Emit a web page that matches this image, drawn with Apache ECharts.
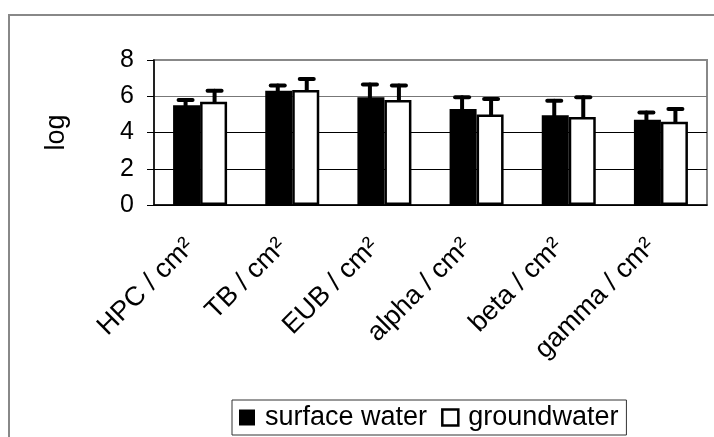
<!DOCTYPE html>
<html>
<head>
<meta charset="utf-8">
<script src="https://cdn.jsdelivr.net/npm/echarts@6/dist/echarts.min.js"></script>
<style>
  html, body { margin: 0; padding: 0; background: #fff; }
  #chart { width: 714px; height: 437px; }
</style>
</head>
<body>
<div id="chart"></div>
<script>
// values
const categories = ['HPC / cm²', 'TB / cm²', 'EUB / cm²', 'alpha / cm²', 'beta / cm²', 'gamma / cm²'];
const surfaceWater = [5.5, 6.3, 5.95, 5.3, 4.95, 4.7];
const surfaceErr = [0.3, 0.3, 0.7, 0.65, 0.8, 0.4];
const groundwater = [5.7, 6.35, 5.8, 5.0, 4.85, 4.6];
const groundErr = [0.6, 0.6, 0.8, 0.85, 1.1, 0.7];
const yTicks = [0, 2, 4, 6, 8];

const FONT = 'Liberation Sans, Arial, sans-serif';
const BAR_W = 27;

function errSeries(name, means, errs, side) {
  return {
    name: name,
    type: 'custom',
    z: 5,
    silent: true,
    data: means.map((v, i) => [i, v, v + errs[i]]),
    renderItem: function (params, api) {
      const base = api.coord([api.value(0), api.value(1)]);
      const top = api.coord([api.value(0), api.value(2)]);
      const x = base[0] + side * (BAR_W / 2 + 1);
      const style = { stroke: '#000', lineWidth: 4, lineCap: 'round' };
      return {
        type: 'group',
        children: [
          { type: 'line', shape: { x1: x, y1: base[1], x2: x, y2: top[1] }, style: style },
          { type: 'line', shape: { x1: x - 7, y1: top[1], x2: x + 7, y2: top[1] }, style: style }
        ]
      };
    }
  };
}

const chart = echarts.init(document.getElementById('chart'));
chart.setOption({
  animation: false,
  backgroundColor: '#fff',
  graphic: [
    {
      type: 'rect',
      shape: { x: 9, y: 15, width: 730, height: 450 },
      style: { fill: 'none', stroke: '#888', lineWidth: 2 },
      z: -1
    }
  ],
  grid: {
    left: 154, right: 7, top: 60, bottom: 232,
    show: true, borderColor: '#888', borderWidth: 2
  },
  legend: {
    left: 232, bottom: 2,
    padding: [4, 8, 4, 7],
    borderColor: '#333', borderWidth: 1,
    itemWidth: 16, itemHeight: 16, itemGap: 14,
    textStyle: { fontFamily: FONT, fontSize: 27, color: '#000', padding: [0, 0, 0, 5] },
    data: [
      { name: 'surface water', icon: 'rect', itemStyle: { color: '#000', borderColor: '#000', borderWidth: 0 } },
      { name: 'groundwater', icon: 'rect', itemStyle: { color: '#fff', borderColor: '#000', borderWidth: 2.5 } }
    ]
  },
  xAxis: {
    type: 'category',
    data: categories,
    axisLine: { lineStyle: { color: '#000', width: 1.5 } },
    axisTick: { length: 7, lineStyle: { color: '#000' } },
    axisLabel: {
      interval: 0, rotate: 45, margin: 28,
      padding: [0, 14, 0, 0],
      fontFamily: FONT, fontSize: 27, color: '#000'
    }
  },
  yAxis: {
    type: 'value',
    min: yTicks[0], max: yTicks[yTicks.length - 1], interval: 2,
    name: 'log',
    nameLocation: 'middle',
    nameGap: 84,
    nameRotate: 90,
    nameTextStyle: { fontFamily: FONT, fontSize: 27, color: '#000' },
    axisLine: { show: true, lineStyle: { color: '#000', width: 1.5 } },
    axisTick: { show: true, length: 7, lineStyle: { color: '#000' } },
    axisLabel: { margin: 20, fontFamily: FONT, fontSize: 25, color: '#000' },
    splitLine: { show: true, lineStyle: { color: ['#000', '#000', '#000', '#777', '#888'], width: 1.2 } }
  },
  series: [
    {
      name: 'surface water', type: 'bar', data: surfaceWater,
      barWidth: BAR_W, barGap: '0%',
      itemStyle: { color: '#000', borderColor: '#000', borderWidth: 2 }
    },
    {
      name: 'groundwater', type: 'bar', data: groundwater,
      barWidth: BAR_W, barGap: '0%',
      itemStyle: { color: '#fff', borderColor: '#000', borderWidth: 2.5 }
    },
    errSeries('surface water', surfaceWater, surfaceErr, -1),
    errSeries('groundwater', groundwater, groundErr, 1)
  ]
});
window.addEventListener('resize', function () { chart.resize(); });
</script>
</body>
</html>
